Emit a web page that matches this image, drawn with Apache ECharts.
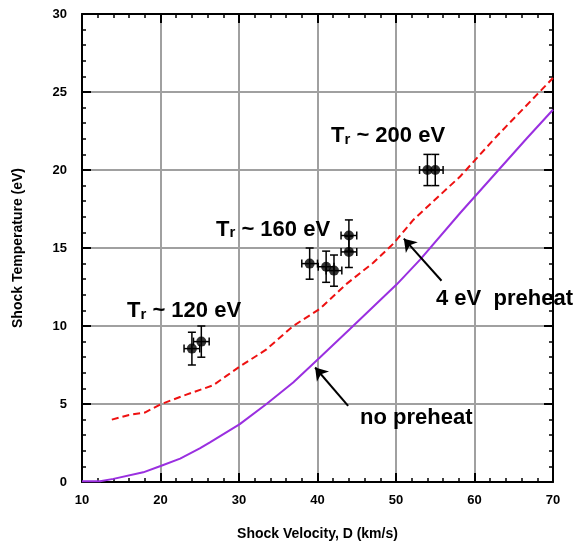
<!DOCTYPE html>
<html>
<head>
<meta charset="utf-8">
<script src="https://cdn.jsdelivr.net/npm/echarts@6/dist/echarts.min.js"></script>
<style>
  html, body { margin: 0; padding: 0; background: #fff; }
  #chart { width: 577px; height: 546px; }
</style>
</head>
<body>
<div id="chart"></div>
<script>
// Axis tick values
const xTickValues = [10, 20, 30, 40, 50, 60, 70];
const yTickValues = [0, 5, 10, 15, 20, 25, 30];

// Calculated shock temperature, no preheat
const noPreheatVelocity = [10, 12.3, 14, 17.8, 20.1, 22.5, 25, 26.3, 30.1, 33.5, 36.9, 40.3, 44.1, 50.1, 53.1, 58.2, 66.7, 70];
const noPreheatTemp     = [0.05, 0.05, 0.2, 0.62, 1.04, 1.5, 2.15, 2.54, 3.71, 5.0, 6.38, 7.98, 9.79, 12.67, 14.27, 17.26, 22.05, 23.86];

// Calculated shock temperature, 4 eV preheat
const preheatVelocity = [13.8, 16, 18, 20.1, 23.3, 26.7, 28.4, 30.1, 33.5, 36.9, 40.3, 43.7, 47.1, 49.7, 52.2, 58.2, 62.8, 67.7, 70];
const preheatTemp     = [4.0, 4.3, 4.45, 5.0, 5.6, 6.2, 6.8, 7.4, 8.5, 10.0, 11.1, 12.7, 14.05, 15.3, 16.8, 19.6, 22.15, 24.7, 25.9];

// Measurements (Tr ~ 120, 160, 200 eV drives)
const measVelocity = [24, 25.2, 39, 41.1, 42.1, 44, 44, 54, 55];
const measTemp     = [8.55, 9.0, 14.0, 13.8, 13.55, 15.8, 14.75, 20.0, 20.0];
const measVelErr   = [1, 1, 1, 1, 1, 1, 1, 1, 1];
const measTempErr  = [1.05, 1, 1, 1, 1, 1, 1, 1, 1];

const FONT = '"Liberation Sans", Arial, Helvetica, sans-serif';

const pairs = (xs, ys) => xs.map((x, i) => [x, ys[i]]);

function valueAxis(ticks, position, primary, extra) {
  return Object.assign({
    type: 'value',
    position: position,
    min: ticks[0],
    max: ticks[ticks.length - 1],
    interval: ticks[1] - ticks[0],
    axisLine: { show: true, onZero: false, lineStyle: { color: '#000', width: 2 } },
    axisTick: { show: true, inside: true, length: 9, lineStyle: { color: '#000', width: 2 } },
    minorTick: { show: true, splitNumber: 5, length: 4, lineStyle: { color: '#000', width: 1.5 } },
    axisLabel: {
      show: primary,
      color: '#000',
      fontFamily: FONT,
      fontWeight: 'bold',
      fontSize: 13
    },
    splitLine: { show: primary, lineStyle: { color: '#a0a0a0', width: 2 } },
    minorSplitLine: { show: false }
  }, extra || {});
}

const rich = {
  m: { fontSize: 22, fontWeight: 'bold', fontFamily: FONT, fill: '#000', color: '#000', verticalAlign: 'bottom' },
  s: { fontSize: 15, fontWeight: 'bold', fontFamily: FONT, fill: '#000', color: '#000', verticalAlign: 'bottom' }
};

function note(text, x, y) {
  return {
    type: 'text', x: x, y: y, silent: true, z: 100,
    style: {
      text: text, rich: rich,
      fontSize: 22, fontWeight: 'bold', fontFamily: FONT, fill: '#000',
      align: 'left', verticalAlign: 'middle'
    }
  };
}

function arrow(from, to) {
  return {
    silent: true,
    symbol: ['none', 'arrow'],
    symbolSize: 12,
    label: { show: false },
    emphasis: { disabled: true },
    animation: false,
    lineStyle: { color: '#000', width: 2, type: 'solid' },
    data: [[{ coord: from }, { coord: to }]]
  };
}

const nameStyle = { color: '#000', fontFamily: FONT, fontWeight: 'bold', fontSize: 14 };

const chart = echarts.init(document.getElementById('chart'), null, { renderer: 'canvas' });

chart.setOption({
  animation: false,
  backgroundColor: '#fff',
  grid: { left: 82, right: 24, top: 14, bottom: 63, containLabel: false },
  xAxis: [
    valueAxis(xTickValues, 'bottom', true, {
      name: 'Shock Velocity, D (km/s)',
      nameLocation: 'middle',
      nameGap: 45,
      nameTextStyle: nameStyle
    }),
    valueAxis(xTickValues, 'top', false)
  ],
  yAxis: [
    valueAxis(yTickValues, 'left', true, {
      name: 'Shock Temperature (eV)',
      nameLocation: 'middle',
      nameGap: 57,
      nameRotate: 90,
      nameTextStyle: nameStyle
    }),
    valueAxis(yTickValues, 'right', false)
  ],
  series: [
    {
      name: 'no preheat',
      type: 'line',
      data: pairs(noPreheatVelocity, noPreheatTemp),
      showSymbol: false,
      symbol: 'none',
      lineStyle: { color: '#9a2fe0', width: 2 },
      emphasis: { disabled: true },
      markLine: arrow([43.9, 4.88], [39.7, 7.34]),
      z: 3
    },
    {
      name: '4 eV preheat',
      type: 'line',
      data: pairs(preheatVelocity, preheatTemp),
      showSymbol: false,
      symbol: 'none',
      lineStyle: { color: '#ee1111', width: 2, type: [7, 4] },
      emphasis: { disabled: true },
      markLine: arrow([55.8, 12.9], [51.0, 15.6]),
      z: 3
    },
    {
      name: 'error bars',
      type: 'custom',
      data: measVelocity.map((v, i) => [v, measTemp[i], measVelErr[i], measTempErr[i]]),
      encode: { x: 0, y: 1 },
      z: 4,
      renderItem: function (params, api) {
        const x = api.value(0), y = api.value(1);
        const ex = api.value(2), ey = api.value(3);
        const c = api.coord([x, y]);
        const top = api.coord([x, y + ey]);
        const bot = api.coord([x, y - ey]);
        const lft = api.coord([x - ex, y]);
        const rgt = api.coord([x + ex, y]);
        const cap = 4;
        const style = { stroke: '#000', lineWidth: 1.5 };
        const seg = (x1, y1, x2, y2) => ({ type: 'line', shape: { x1, y1, x2, y2 }, style });
        return {
          type: 'group',
          children: [
            seg(c[0], top[1], c[0], bot[1]),
            seg(c[0] - cap, top[1], c[0] + cap, top[1]),
            seg(c[0] - cap, bot[1], c[0] + cap, bot[1]),
            seg(lft[0], c[1], rgt[0], c[1]),
            seg(lft[0], c[1] - cap, lft[0], c[1] + cap),
            seg(rgt[0], c[1] - cap, rgt[0], c[1] + cap)
          ]
        };
      }
    },
    {
      name: 'measured',
      type: 'scatter',
      data: pairs(measVelocity, measTemp),
      symbol: 'circle',
      symbolSize: 10,
      itemStyle: { color: '#000' },
      emphasis: { disabled: true },
      z: 5
    }
  ],
  graphic: [
    note('{m|T}{s|r}{m| ~ 200 eV}', 331, 136),
    note('{m|T}{s|r}{m| ~ 160 eV}', 216, 229.5),
    note('{m|T}{s|r}{m| ~ 120 eV}', 127, 311),
    note('4 eV  preheat', 436, 299),
    note('no preheat', 360, 418)
  ]
});

// Tick label spacing from the frame
chart.setOption({
  xAxis: [{ axisLabel: { margin: 12 } }, {}],
  yAxis: [{ axisLabel: { margin: 15 } }, {}]
});
</script>
</body>
</html>
